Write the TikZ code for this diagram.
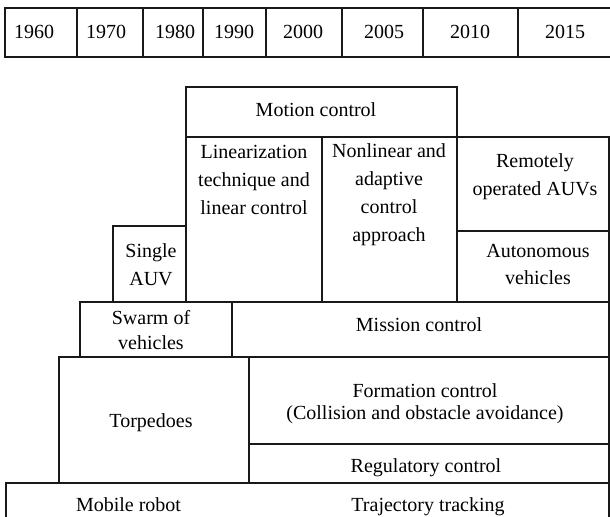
\documentclass[tikz,border=0pt]{standalone}
\usepackage{fontspec}
\setmainfont{Liberation Serif}
\begin{document}
\begin{tikzpicture}[x=0.75pt,y=-0.75pt,
  box/.style={draw=black!90, line width=0.9pt},
  lbl/.style={inner sep=0pt, align=center, font=\fontsize{15}{21}\selectfont},
  lblb/.style={lbl, anchor=base},
  lbln/.style={lbl, anchor=north}]
\useasboundingbox (0,0) rectangle (610,517);
% year row
\draw[box] (5,8) rectangle (616,57);
\foreach \xx in {77,143,203,266,342,423,518} \draw[box] (\xx,8) -- (\xx,57);
\node[lblb] (y1960) at (34,39) {1960};
\node[lblb] (y1970) at (106,39) {1970};
\node[lblb] (y1980) at (175,39) {1980};
\node[lblb] (y1990) at (234,39) {1990};
\node[lblb] (y2000) at (303,39) {2000};
\node[lblb] (y2005) at (384,39) {2005};
\node[lblb] (y2010) at (470,39) {2010};
\node[lblb] (y2015) at (565,39) {2015};
% blocks
\draw[box] (186,87) rectangle (457,137);
\draw[box] (186,137) rectangle (322,302);
\draw[box] (322,137) rectangle (457,302);
\draw[box] (457,137) rectangle (609,231);
\draw[box] (457,231) rectangle (609,302);
\draw[box] (113,226) rectangle (186,302);
\draw[box] (80,302) rectangle (232,357);
\draw[box] (232,302) rectangle (609,357);
\draw[box] (59,357) rectangle (249,483);
\draw[box] (249,357) rectangle (609,444);
\draw[box] (249,444) rectangle (609,483);
\draw[box] (6,522) -- (6,483) -- (609,483) -- (609,522);
% texts
\node[lblb] (motion) at (316,117) {Motion control};
\node[lbln] (linear) at (254,144.5) {Linearization\\technique and\\linear control};
\node[lbln] (nonlin) at (389,143.5) {Nonlinear and\\adaptive\\control\\approach};
\node[lbln] (remote) at (535,153.5) {Remotely\\operated AUVs};
\node[lbln, font=\fontsize{15}{20.25}\selectfont] (auton) at (538,244.5) {Autonomous\\vehicles};
\node[lbln] (single) at (151,243.5) {Single\\AUV};
\node[lbln, font=\fontsize{15}{18.75}\selectfont] (swarm) at (151,310.5) {Swarm of\\vehicles};
\node[lblb] (mission) at (419,331) {Mission control};
\node[lblb] (torp) at (151,427) {Torpedoes};
\node[lbln, font=\fontsize{15}{16.5}\selectfont] (form) at (425,383.5) {Formation control\\(Collision and obstacle avoidance)};
\node[lblb] (reg) at (426,472) {Regulatory control};
\node[lblb] (mobile) at (128.5,511) {Mobile robot};
\node[lblb] (traj) at (428,511) {Trajectory tracking};
\end{tikzpicture}
\end{document}
